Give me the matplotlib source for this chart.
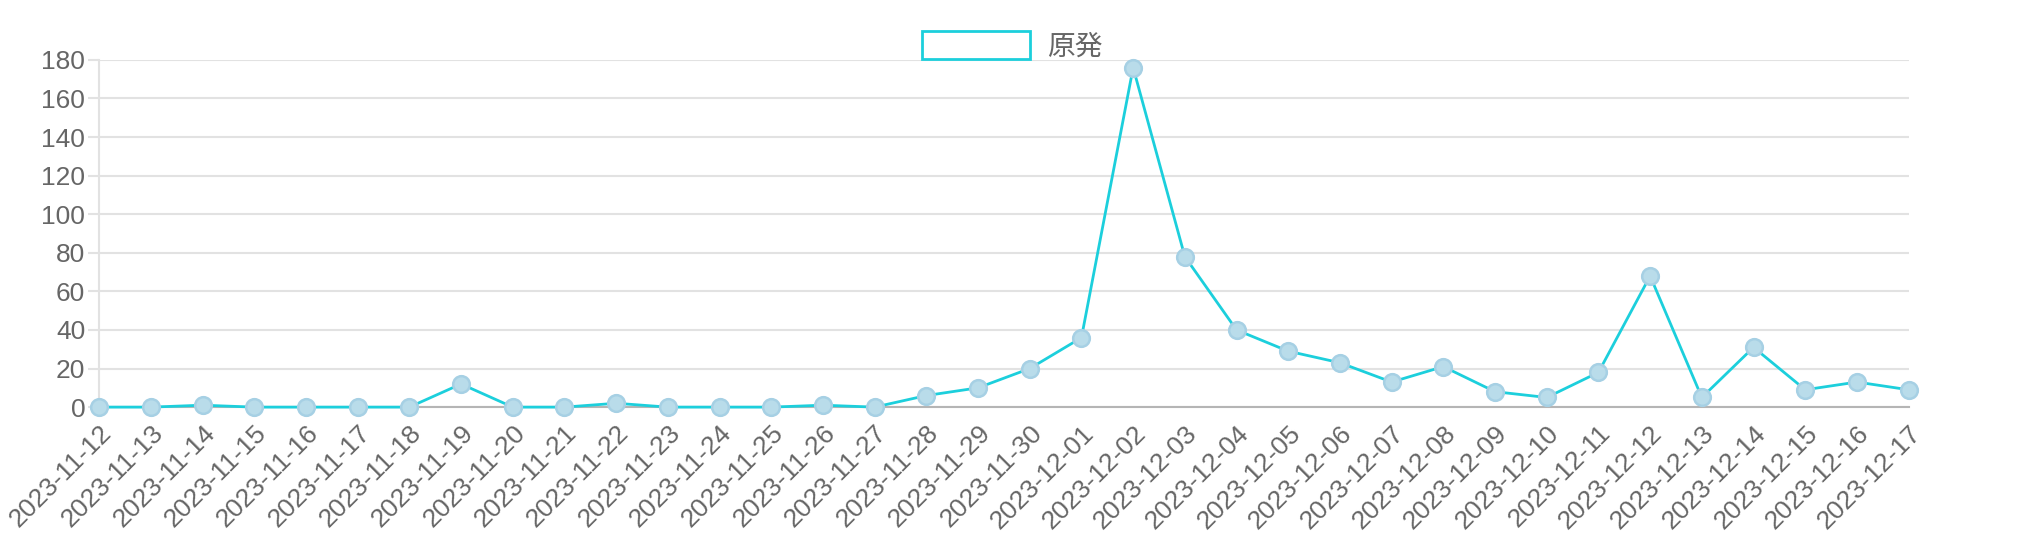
import matplotlib.pyplot as plt

# === Daten ===
dates = ["2023-11-12", "2023-11-13", "2023-11-14", "2023-11-15", "2023-11-16", "2023-11-17",
         "2023-11-18", "2023-11-19", "2023-11-20", "2023-11-21", "2023-11-22", "2023-11-23",
         "2023-11-24", "2023-11-25", "2023-11-26", "2023-11-27", "2023-11-28", "2023-11-29",
         "2023-11-30", "2023-12-01", "2023-12-02", "2023-12-03", "2023-12-04", "2023-12-05",
         "2023-12-06", "2023-12-07", "2023-12-08", "2023-12-09", "2023-12-10", "2023-12-11",
         "2023-12-12", "2023-12-13", "2023-12-14", "2023-12-15", "2023-12-16", "2023-12-17"]
values = [0, 0, 1, 0, 0, 0, 0, 12, 0, 0, 2, 0, 0, 0, 1, 0, 6, 10, 20, 36,
          176, 78, 40, 29, 23, 13, 21, 8, 5, 18, 68, 5, 31, 9, 13, 9]
series_name = "原発"
y_ticks = list(range(0, 181, 20))

plt.rcParams['font.family'] = ['Liberation Sans', 'Noto Sans CJK JP', 'DejaVu Sans']

fig = plt.figure(figsize=(20.24, 5.6), dpi=100)
ax = fig.add_axes([0.049, 0.273, 0.894, 0.62])

x = list(range(len(dates)))
ax.plot(x, values, color="#1ccfdc", linewidth=2, marker="o", markersize=12,
        markerfacecolor="#b9dcea", markeredgecolor="#a6d0e4", markeredgewidth=1.8,
        label=series_name, zorder=3, clip_on=False)

ax.set_xlim(0, len(dates) - 1)
ax.set_ylim(0, 180)
ax.set_yticks(y_ticks)
ax.set_xticks(x)
ax.set_xticklabels(dates, rotation=45, ha="right", rotation_mode="anchor")

ax.grid(True, axis="y", color="#e2e2e2", linewidth=1.5)
ax.set_axisbelow(True)
for s in ["top", "right"]:
    ax.spines[s].set_visible(False)
ax.spines["left"].set_color("#e2e2e2")
ax.spines["left"].set_linewidth(1.5)
ax.spines["bottom"].set_color("#b5b5b5")
ax.spines["bottom"].set_linewidth(1.5)
ax.tick_params(axis="y", length=8, color="#e2e2e2", width=1.5, labelsize=19, labelcolor="#666666", pad=2)
ax.tick_params(axis="x", length=0, labelsize=19, labelcolor="#666666", pad=10)

leg = fig.legend(handles=[plt.Rectangle((0, 0), 1, 1, facecolor="white", edgecolor="#1ccfdc", linewidth=2)],
                 labels=[series_name], loc="upper center", bbox_to_anchor=(0.5, 0.99),
                 frameon=False, fontsize=20, handlelength=3.9, handleheight=1.2, handletextpad=0.6)
for t in leg.get_texts():
    t.set_color("#666666")

fig.savefig("out.png", dpi=100)
